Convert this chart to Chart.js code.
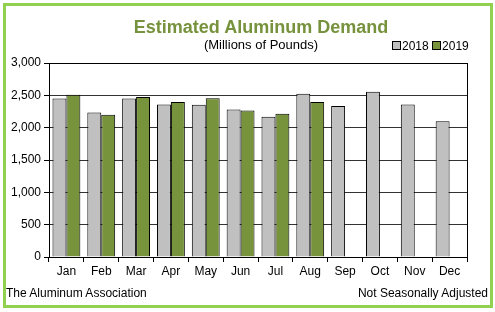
<!DOCTYPE html>
<html>
<head>
<meta charset="utf-8">
<script src="https://cdn.jsdelivr.net/npm/chart.js@4"></script>
<style>
  html, body { margin: 0; padding: 0; background: #fff; }
  #wrap { position: relative; width: 495px; height: 312px; font-family: "Liberation Sans", Arial, sans-serif; }
  #frame { position: absolute; left: 3px; top: 3px; width: 484px; height: 299px; border: 3px solid #92D050; }
  canvas { position: absolute; left: 0; top: 0; }
  .txt { position: absolute; white-space: nowrap; color: #000; }
  #title { left: 0; width: 522px; top: 17px; text-align: center; font-weight: bold; font-size: 18px; color: #76923C; }
  #sub { left: 0; width: 522px; top: 37px; text-align: center; font-size: 13px; }
  #legend { left: 392px; top: 39px; font-size: 12px; }
  .sw { display: inline-block; width: 7px; height: 7px; border: 1px solid #000; margin-right: 1px; vertical-align: 0px; }
  #foot1 { left: 6px; top: 286px; font-size: 12px; }
  #foot2 { right: 7px; top: 286px; font-size: 12px; }
</style>
</head>
<body>
<div id="wrap">
  <div id="frame"></div>
  <canvas id="chart" width="495" height="312"></canvas>
  <div class="txt" id="title">Estimated Aluminum Demand</div>
  <div class="txt" id="sub">(Millions of Pounds)</div>
  <div class="txt" id="legend"><span class="sw" style="background:#C0C0C0"></span>2018 <span class="sw" style="background:#77933C"></span>2019</div>
  <div class="txt" id="foot1">The Aluminum Association</div>
  <div class="txt" id="foot2">Not Seasonally Adjusted</div>
</div>
<script>
const months = ["Jan","Feb","Mar","Apr","May","Jun","Jul","Aug","Sep","Oct","Nov","Dec"];
const demand2018 = [2450, 2235, 2450, 2360, 2355, 2280, 2170, 2525, 2335, 2555, 2360, 2100];
const demand2019 = [2510, 2200, 2475, 2395, 2455, 2265, 2215, 2395, null, null, null, null];

const frameBox = {
  id: "frameBox",
  afterDatasetsDraw(chart) {
    const a = chart.chartArea, ctx = chart.ctx;
    ctx.save();
    ctx.strokeStyle = "#000";
    ctx.lineWidth = 1;
    ctx.strokeRect(Math.round(a.left) + 0.5, Math.round(a.top) + 0.5, Math.round(a.right - a.left), Math.round(a.bottom - a.top));
    ctx.restore();
  }
};

new Chart(document.getElementById("chart"), {
  type: "bar",
  data: {
    labels: months,
    datasets: [
      { label: "2018", data: demand2018, backgroundColor: "#C0C0C0", borderColor: "#000", borderWidth: 1 },
      { label: "2019", data: demand2019, backgroundColor: "#77933C", borderColor: "#000", borderWidth: 1 }
    ]
  },
  options: {
    responsive: false,
    animation: false,
    layout: { padding: { left: 0, top: 63, right: 28, bottom: 31 } },
    plugins: { legend: { display: false }, tooltip: { enabled: false } },
    datasets: { bar: { categoryPercentage: 0.8, barPercentage: 1.0 } },
    scales: {
      x: {
        grid: { offset: true, drawOnChartArea: false, drawTicks: true, tickLength: 5, color: "#000" },
        border: { color: "#000" },
        ticks: { color: "#000", font: { family: "Liberation Sans", size: 12 }, padding: 2 },
        afterFit(s) { s.height = 24; }
      },
      y: {
        min: 0, max: 3000,
        grid: { color: "#333", tickLength: 5, tickColor: "#000" },
        border: { color: "#000" },
        ticks: { stepSize: 500, color: "#000", font: { family: "Liberation Sans", size: 12 }, padding: 3,
          callback: v => v.toLocaleString("en-US") },
        afterFit(s) { s.width = 49; }
      }
    }
  },
  plugins: [frameBox]
});
</script>
</body>
</html>
